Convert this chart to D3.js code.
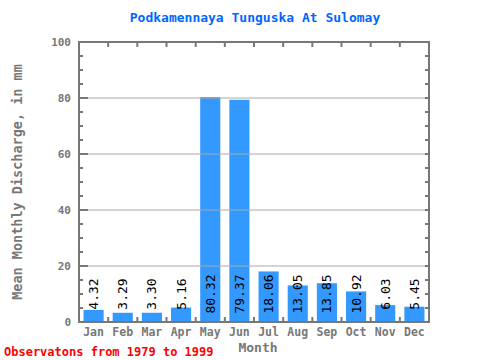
<!DOCTYPE html>
<html><head><meta charset="utf-8">
<script src="https://cdn.jsdelivr.net/npm/d3@7"></script>
<style>body{margin:0;background:#fff}</style>
</head><body>
<svg id="c" width="480" height="360"></svg>
<script>
const months = ["Jan","Feb","Mar","Apr","May","Jun","Jul","Aug","Sep","Oct","Nov","Dec"];
const values = [4.32,3.29,3.30,5.16,80.32,79.37,18.06,13.05,13.85,10.92,6.03,5.45];
const yTicks = [0,20,40,60,80,100];
const labels = values.map(v => v.toFixed(2));

const svg = d3.select("#c");
const L = 79, R = 429, T = 42, B = 322;
const font = "'DejaVu Sans Mono','Liberation Mono',monospace";
const gray = "#777";

const x = d3.scaleBand().domain(months).range([L, R]).paddingInner(0.31).paddingOuter(0.155);
const xb = d3.scaleBand().domain(months).range([L, R]);
const y = d3.scaleLinear().domain([0, 100]).range([B, T]);

// bars
svg.selectAll("rect.bar").data(values).enter().append("rect")
  .attr("x", (d, i) => x(months[i])).attr("width", x.bandwidth())
  .attr("y", d => y(d)).attr("height", d => B - y(d))
  .attr("fill", "#3399ff");

// gridlines
svg.selectAll("line.grid").data(yTicks.filter(t => t > 0 && t < 100)).enter().append("line")
  .attr("x1", L).attr("x2", R).attr("y1", d => y(d)).attr("y2", d => y(d))
  .attr("stroke", "#aaa").attr("stroke-width", 1);

// minor ticks
const minor = d3.range(0, 101, 5);
const tickG = svg.append("g").attr("stroke", gray).attr("stroke-width", 2);
tickG.selectAll("line.ml").data(minor).enter().append("line")
  .attr("x1", L).attr("x2", d => L + (d % 20 === 0 ? 9 : 4))
  .attr("y1", d => y(d)).attr("y2", d => y(d));
tickG.selectAll("line.mr").data(minor).enter().append("line")
  .attr("x1", R).attr("x2", R - 4)
  .attr("y1", d => y(d)).attr("y2", d => y(d));
const bounds = months.map(m => xb(m)).concat([R]);
tickG.selectAll("line.tb").data(bounds).enter().append("line")
  .attr("x1", d => d).attr("x2", d => d).attr("y1", B).attr("y2", B - 5);
tickG.selectAll("line.tt").data(bounds).enter().append("line")
  .attr("x1", d => d).attr("x2", d => d).attr("y1", T).attr("y2", T + 5);

// frame
svg.append("rect").attr("x", L).attr("y", T).attr("width", R - L).attr("height", B - T)
  .attr("fill", "none").attr("stroke", gray).attr("stroke-width", 2);

// y tick labels
svg.selectAll("text.yt").data(yTicks).enter().append("text")
  .attr("x", 71).attr("y", d => y(d)).attr("dy", "0.35em")
  .attr("text-anchor", "end").attr("font-family", font).attr("font-size", 11)
  .attr("font-weight", "bold").attr("fill", gray).text(d => d);

// x tick labels
svg.selectAll("text.xt").data(months).enter().append("text")
  .attr("x", d => xb(d) + xb.bandwidth() / 2).attr("y", 336)
  .attr("text-anchor", "middle").attr("font-family", font).attr("font-size", 11.5)
  .attr("font-weight", "bold").attr("fill", gray).text(d => d);

// value labels
svg.selectAll("text.vl").data(values).enter().append("text")
  .attr("transform", (d, i) => `translate(${x(months[i]) + x.bandwidth() / 2 + 4.5},294) rotate(-90)`)
  .attr("text-anchor", "middle").attr("font-family", font).attr("font-size", 13)
  .attr("fill", "#000").text((d, i) => labels[i]);

// title
svg.append("text").attr("x", 255).attr("y", 22).attr("text-anchor", "middle")
  .attr("font-family", font).attr("font-size", 13).attr("font-weight", "bold")
  .attr("fill", "#0066ff").text("Podkamennaya Tunguska At Sulomay");

// axis titles
svg.append("text").attr("x", 258).attr("y", 352).attr("text-anchor", "middle")
  .attr("font-family", font).attr("font-size", 13).attr("font-weight", "bold")
  .attr("fill", gray).text("Month");
svg.append("text").attr("transform", "translate(22,182) rotate(-90)").attr("text-anchor", "middle")
  .attr("font-family", font).attr("font-size", 13.5).attr("font-weight", "bold")
  .attr("fill", gray).text("Mean Monthly Discharge, in mm");

svg.append("text").attr("x", 4).attr("y", 356)
  .attr("font-family", font).attr("font-size", 12).attr("font-weight", "bold")
  .attr("fill", "#ff0000").text("Observatons from 1979 to 1999");
</script>
</body></html>
